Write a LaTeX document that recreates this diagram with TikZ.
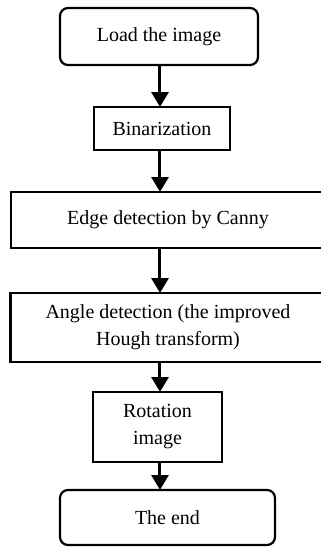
\documentclass[tikz,border=0pt]{standalone}
\usepackage{fontspec}
\setmainfont{Liberation Serif}
\usetikzlibrary{arrows.meta, positioning}

\begin{document}
\begin{tikzpicture}[
    node distance=21pt,
    terminal/.style={draw, line width=1.1pt, rounded corners=4pt, inner sep=0pt, outer sep=0pt, align=center, font=\fontsize{10}{13.5}\selectfont},
    process/.style={draw, line width=1.3pt, inner sep=0pt, outer sep=0pt, align=center, font=\fontsize{10}{13.5}\selectfont},
    arrow/.style={-{Triangle[width=8.5pt, length=7.5pt]}, line width=1.5pt}
]
    \useasboundingbox (0,0) rectangle (160.5pt,-274pt);
    \clip (0,0) rectangle (160.5pt,-274pt);
    \coordinate (axis) at (80pt,0);

    % Nodes
    \node[terminal, minimum width=99pt, minimum height=28.5pt] (load) at (79.5pt,-18.25pt) {Load the image};
    \node[process, minimum width=68pt, minimum height=21.5pt, below=21pt of load, xshift=1.5pt] (binar) {Binarization};
    \node[process, minimum width=157pt, minimum height=28pt, below=21pt of binar, xshift=3pt] (edge) {Edge detection by Canny};
    \node[process, minimum width=157.5pt, minimum height=34.5pt, below=22.5pt of edge] (angle) {Angle detection (the improved\\Hough transform)};
    \node[process, minimum width=64.5pt, minimum height=35pt, below=15pt of angle, xshift=-5.25pt] (rotate) {Rotation\\image};
    \node[terminal, minimum width=107.5pt, minimum height=27.5pt, below=14pt of rotate, xshift=5pt] (theend) {The end};

    % Arrows
    \draw[arrow] (load.south -| axis) -- (binar.north -| axis);
    \draw[arrow] (binar.south -| axis) -- (edge.north -| axis);
    \draw[arrow] (edge.south -| axis) -- (angle.north -| axis);
    \draw[arrow] (angle.south -| axis) -- (rotate.north -| axis);
    \draw[arrow] (rotate.south -| axis) -- (theend.north -| axis);
\end{tikzpicture}
\end{document}
